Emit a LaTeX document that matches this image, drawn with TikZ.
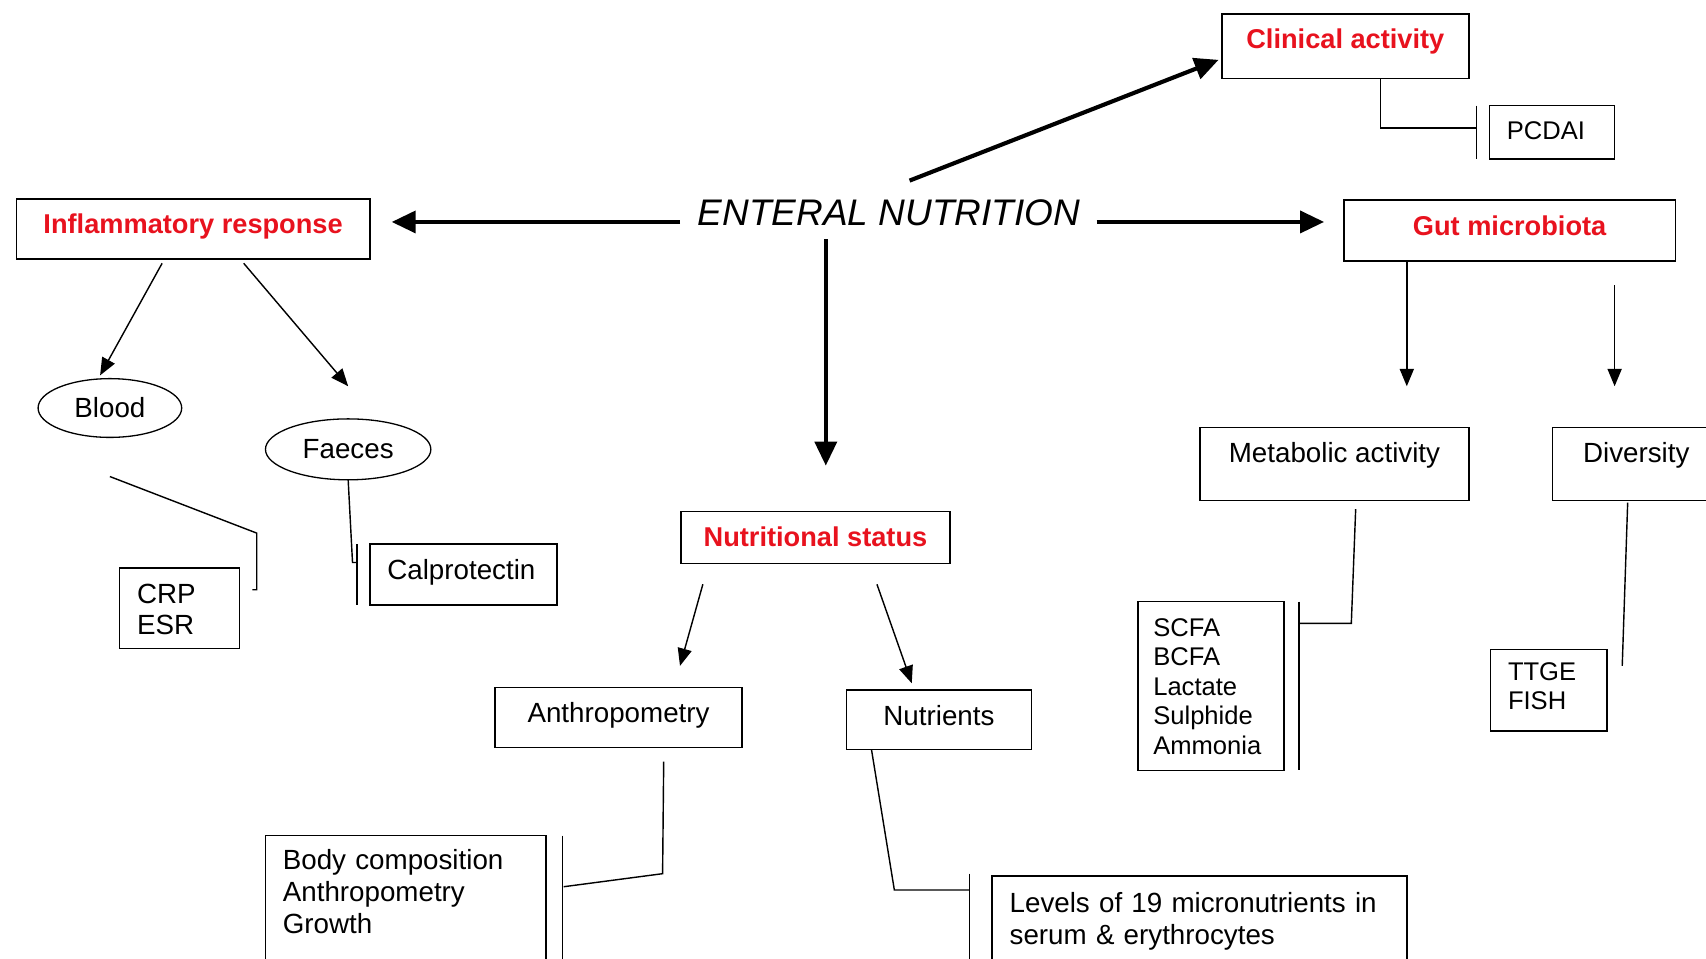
\documentclass[tikz,border=0pt]{standalone}
\usepackage{fontspec}
\setmainfont{Liberation Sans}
\usetikzlibrary{arrows.meta}
\usetikzlibrary{shapes.geometric}
\definecolor{headred}{RGB}{232,18,30}
\newcommand\txtfont{\fontsize{25.5}{28}\selectfont}
\newcommand\redfont{\fontsize{25}{29}\selectfont\bfseries}
\newcommand\lstfont{\fontsize{23.5}{27}\selectfont}
\newcommand\titfont{\fontsize{34}{40}\selectfont\itshape}
\tikzset{
  box/.style={draw, line width=1.5pt, anchor=north west, inner ysep=0pt, inner xsep=0pt, outer sep=0pt, font=\txtfont},
  headbox/.style={box, font=\redfont, text=headred},
  listbox/.style={box, align=left, inner xsep=16pt},
  oval/.style={draw, ellipse, line width=1.2pt, inner sep=0pt, outer sep=0pt, font=\txtfont},
  bigarr/.style={-{Triangle[length=22pt,width=20pt]}, line width=3.8pt},
  smallarr/.style={-{Triangle[length=16pt,width=13pt]}, line width=1.3pt},
  link/.style={line width=1.3pt}
}
\begin{document}
\begin{tikzpicture}[x=1pt,y=-1pt]
  \useasboundingbox (0,0) rectangle (1568,881);
  \clip (0,0) rectangle (1568,881);
  \fill[white] (0,0) rectangle (1568,881);

  \node[font=\titfont, inner sep=0pt] (en) at (817,196) {ENTERAL NUTRITION};

  % headings
  \node[headbox, minimum width=227pt, text height=32pt, text depth=27pt] (clin) at (1123,13) {Clinical activity};
  \node[headbox, minimum width=325pt, text height=32pt, text depth=23pt] (infl) at (15,183) {Inflammatory response};
  \node[headbox, minimum width=305pt, text height=32pt, text depth=24pt] (gut) at (1235,184) {Gut microbiota};
  \node[headbox, minimum width=247pt, text height=32pt, text depth=16pt] (nutr) at (626,470) {Nutritional status};

  % second level
  \node[oval, minimum width=132pt, minimum height=54pt] (blood) at (101,375) {Blood};
  \node[oval, minimum width=152pt, minimum height=56pt] (faeces) at (320,413) {Faeces};
  \node[box, minimum width=227pt, text height=32pt, text depth=23pt] (anth) at (455,632) {Anthropometry};
  \node[box, minimum width=170pt, text height=33pt, text depth=22pt] (nutrients) at (778,634) {Nutrients};
  \node[box, minimum width=247pt, text height=32pt, text depth=35pt] (meta) at (1103,393) {Metabolic activity};
  \node[listbox, inner xsep=28pt, text width=114pt, text height=32pt, text depth=35pt] (div) at (1427,393) {Diversity};

  % measures
  \node[listbox, font=\lstfont, text width=83pt, text height=31.5pt, text depth=17.5pt] (pcdai) at (1369,97) {PCDAI};
  \node[listbox, text width=78pt, text height=33pt, text depth=41pt] (crp) at (110,522) {CRP\\ESR};
  \node[listbox, text width=140pt, text height=33pt, text depth=23pt] (calp) at (340,500) {Calprotectin};
  \node[listbox, font=\lstfont, inner xsep=14pt, text width=106pt, text height=32pt, text depth=123pt] (scfa) at (1046,553) {SCFA\\BCFA\\Lactate\\Sulphide\\Ammonia};
  \node[listbox, font=\lstfont, text width=75pt, text height=28.5pt, text depth=46.5pt] (ttge) at (1370,597) {TTGE\\FISH};
  \node[listbox, font=\fontsize{25.5}{29.5}\selectfont, text width=226pt, text height=31pt, text depth=140pt] (body) at (244,768) {Body composition\\Anthropometry\\Growth};
  \node[listbox, font=\fontsize{25.5}{29}\selectfont, text width=349pt, text height=34pt, text depth=100pt] (lev) at (912,805) {Levels of 19 micronutrients in\\serum \& erythrocytes};

  % main arrows
  \draw[bigarr] ([xshift=19pt,yshift=30pt]en.center) -- ([xshift=-3pt,yshift=-12.5pt]clin.west);
  \draw[bigarr] ([xshift=-192pt,yshift=-8pt]en.center) -- ([xshift=20pt,yshift=6.5pt]infl.east);
  \draw[bigarr] ([xshift=191pt,yshift=-8pt]en.center) -- ([xshift=-18pt,yshift=8pt]gut.west);
  \draw[bigarr] ([xshift=-58pt,yshift=-24pt]en.center) -- ([xshift=9.5pt,yshift=42pt]nutr.north);

  \draw[smallarr] ([xshift=-28.5pt,yshift=-4pt]infl.south) -- ([xshift=-9pt,yshift=3pt]blood.north);
  \draw[smallarr] ([xshift=46.5pt,yshift=-4pt]infl.south) -- ([yshift=30pt]faeces.north);
  \draw[smallarr] ([xshift=-103.5pt,yshift=-19pt]nutr.south) -- ([xshift=56.5pt,yshift=20pt]anth.north);
  \draw[smallarr] ([xshift=56.5pt,yshift=-19pt]nutr.south) -- ([xshift=-25pt,yshift=6pt]nutrients.north);
  \draw[smallarr] ([xshift=-94.5pt]gut.south) -- ([xshift=66.5pt,yshift=38pt]meta.north);
  \draw[smallarr] ([xshift=96.5pt,yshift=-22pt]gut.south) -- ([xshift=57pt,yshift=38pt]div.north west);

  % links to the measures
  \draw[link] ([xshift=32.5pt]clin.south) |- ([xshift=-12pt,yshift=4pt]pcdai.west);
  \draw[link] ([xshift=-12pt]pcdai.north west) -- ([xshift=-12pt]pcdai.south west);
  \draw[link] ([yshift=-36pt]blood.south) -- ([xshift=16pt,yshift=32pt]crp.north east) -- ([xshift=16pt,yshift=-20pt]crp.north east) -- ([xshift=12pt,yshift=-20pt]crp.north east);
  \draw[link] (faeces.south) -- ([xshift=-16pt,yshift=-17pt]calp.north west) -- ([xshift=-12pt,yshift=-17pt]calp.north west);
  \draw[link] ([xshift=-12pt]calp.north west) -- ([xshift=-12pt]calp.south west);
  \draw[link] ([xshift=19.5pt,yshift=-8pt]meta.south) -- ([xshift=62pt,yshift=-20pt]scfa.north east) -- ([xshift=14pt,yshift=-20pt]scfa.north east);
  \draw[link] ([xshift=14pt]scfa.north east) -- ([xshift=14pt]scfa.south east);
  \draw[link] ([xshift=69pt,yshift=-2pt]div.south west) -- ([xshift=14pt,yshift=-15pt]ttge.north east);
  \draw[link] ([xshift=41.5pt,yshift=-13pt]anth.south) -- ([xshift=107pt,yshift=-35pt]body.north east) -- ([xshift=16pt,yshift=-47pt]body.north east);
  \draw[link] ([xshift=15pt]body.north east) -- ([xshift=15pt]body.south east);
  \draw[link] ([xshift=23pt]nutrients.south west) -- ([xshift=-90pt,yshift=-13pt]lev.north west) -- ([xshift=-21pt,yshift=-13pt]lev.north west);
  \draw[link] ([xshift=-21pt,yshift=2pt]lev.north west) -- ([xshift=-21pt]lev.south west);
\end{tikzpicture}
\end{document}
